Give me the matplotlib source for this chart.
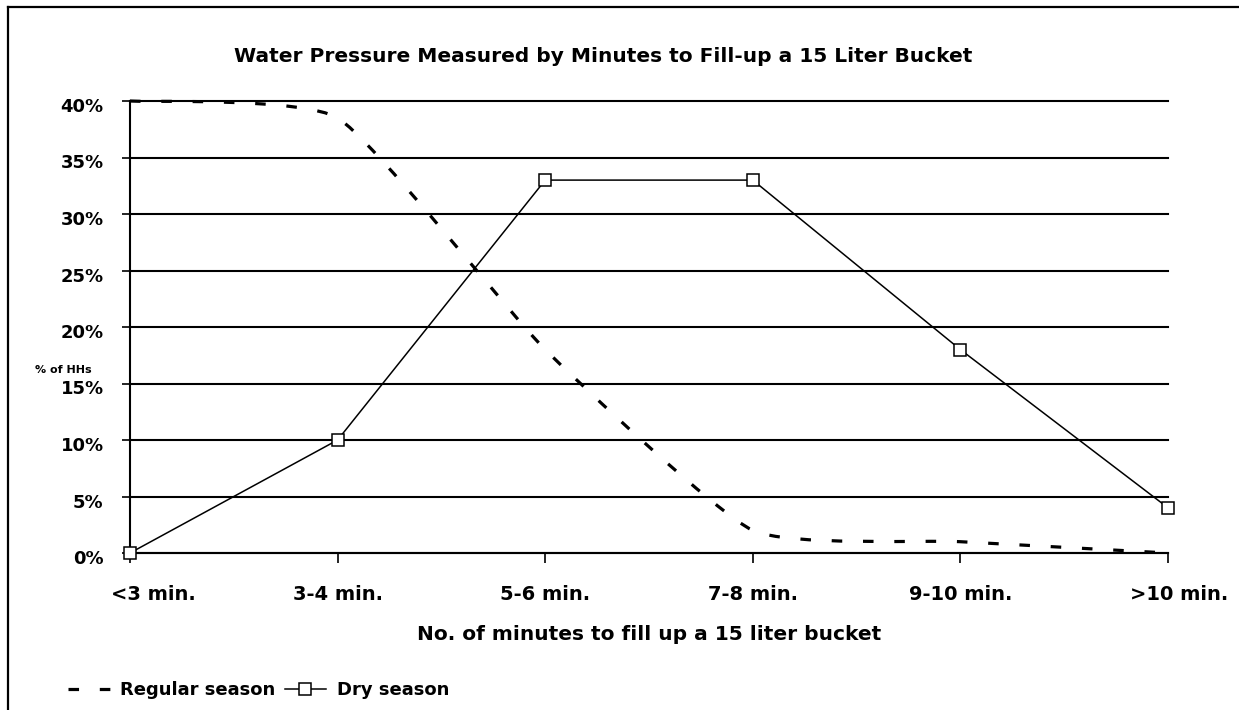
import matplotlib
matplotlib.use('Agg')
import matplotlib.pyplot as plt
from matplotlib.path import Path
from matplotlib.patches import PathPatch
from matplotlib.lines import Line2D
import matplotlib.transforms as mtransforms
import numpy as np

# ---------------- data ----------------
categories = ["<3 min.", "3-4 min.", "5-6 min.", "7-8 min.", "9-10 min.", ">10 min."]
regular_season = [40, 38.5, 18, 2, 1, 0]
dry_season = [0, 10, 33, 33, 18, 4]
y_ticks = [0, 5, 10, 15, 20, 25, 30, 35, 40]
y_tick_labels = [f"{v}%" for v in y_ticks]
title = "Water Pressure Measured by Minutes to Fill-up a 15 Liter Bucket"
x_label = "No. of minutes to fill up a 15 liter bucket"
y_label = "% of HHs"
series_names = ["Regular season", "Dry season"]

plt.rcParams['font.family'] = ['DejaVu Sans']
plt.rcParams['font.weight'] = 'bold'

W, H = 1239, 710
fig = plt.figure(figsize=(W / 100, H / 100), dpi=100)
ax = fig.add_axes([130 / W, (H - 553) / H, (1168 - 130) / W, (553 - 101) / H])

x = np.arange(len(categories))
ax.set_xlim(0, len(categories) - 1)
ax.set_ylim(0, 40)

# spines
for s in ['top', 'right']:
    ax.spines[s].set_visible(False)
ax.spines['left'].set_linewidth(1.5)
ax.spines['bottom'].set_linewidth(1.5)

# y axis
ax.set_yticks(y_ticks)
ax.set_yticklabels(y_tick_labels, fontsize=13, fontweight='bold')
ax.tick_params(axis='y', direction='out', length=6, width=1.2, pad=13)
ax.yaxis.grid(True, color='black', linewidth=1.5)
for gl in ax.get_ygridlines():
    gl.set_clip_on(False)
off = mtransforms.ScaledTranslation(0, -4 / 100, fig.dpi_scale_trans)
for lab in ax.get_yticklabels():
    lab.set_transform(lab.get_transform() + off)

# x axis
ax.set_xticks(x)
ax.set_xticklabels(categories, fontsize=14, fontweight='bold')
ax.tick_params(axis='x', direction='out', length=7, width=1.2, pad=16)
xl = ax.get_xticklabels()
xl[0].set_transform(xl[0].get_transform() + mtransforms.ScaledTranslation(23 / 100, 0, fig.dpi_scale_trans))
xl[-1].set_transform(xl[-1].get_transform() + mtransforms.ScaledTranslation(11 / 100, 0, fig.dpi_scale_trans))

# dry season line
ax.plot(x, dry_season, color='black', linewidth=1.1, marker='s', markersize=8,
        markerfacecolor='white', markeredgecolor='black', markeredgewidth=1.1,
        clip_on=False, zorder=4)

# regular season: smoothed (Bezier) dashed line computed in display space
pts = ax.transData.transform(np.column_stack([x, regular_season]))
n = len(pts)
k = 1 / 12
verts = [pts[0]]
codes = [Path.MOVETO]
for i in range(n - 1):
    p_prev = pts[i - 1] if i > 0 else pts[i]
    p0 = pts[i]
    p1 = pts[i + 1]
    p_next = pts[i + 2] if i + 2 < n else pts[i + 1]
    c1 = p0 + (p1 - p_prev) * k
    c2 = p1 - (p_next - p0) * k
    verts += [c1, c2, p1]
    codes += [Path.CURVE4] * 3
verts = ax.transData.inverted().transform(np.array(verts))
patch = PathPatch(Path(verts, codes), fill=False, edgecolor='black', linewidth=2.3,
                  linestyle=(0, (3.3, 6.5)), capstyle='butt', transform=ax.transData,
                  zorder=3, clip_on=False)
ax.add_patch(patch)

# texts
fig.text(603 / W, 1 - 57 / H, title, ha='center', va='center', fontsize=14.5, fontweight='bold')
fig.text(649 / W, 1 - 634 / H, x_label, ha='center', va='center', fontsize=14.5, fontweight='bold')
fig.text(63 / W, 1 - 370 / H, y_label, ha='center', va='center', fontsize=8, fontweight='bold')

# legend
handles = [
    Line2D([], [], color='black', linewidth=2.3, linestyle=(0, (3.3, 6.5)), dash_capstyle='butt'),
    Line2D([], [], color='black', linewidth=1.1, marker='s', markersize=8,
           markerfacecolor='white', markeredgecolor='black', markeredgewidth=1.1),
]
fig.legend(handles, series_names, loc='center left', bbox_to_anchor=(68 / W, 1 - 690 / H),
           ncol=2, frameon=False, prop=dict(weight='bold', size=13),
           handlelength=2.3, handletextpad=0.6, columnspacing=0.5, borderaxespad=0, borderpad=0)

# outer border (left and top)
fig.add_artist(Line2D([8 / W, 8 / W], [0, 1 - 7 / H], color='black', linewidth=1.6, transform=fig.transFigure))
fig.add_artist(Line2D([8 / W, 1], [1 - 7 / H, 1 - 7 / H], color='black', linewidth=1.6, transform=fig.transFigure))

fig.savefig('out.png', dpi=100, facecolor='white')
